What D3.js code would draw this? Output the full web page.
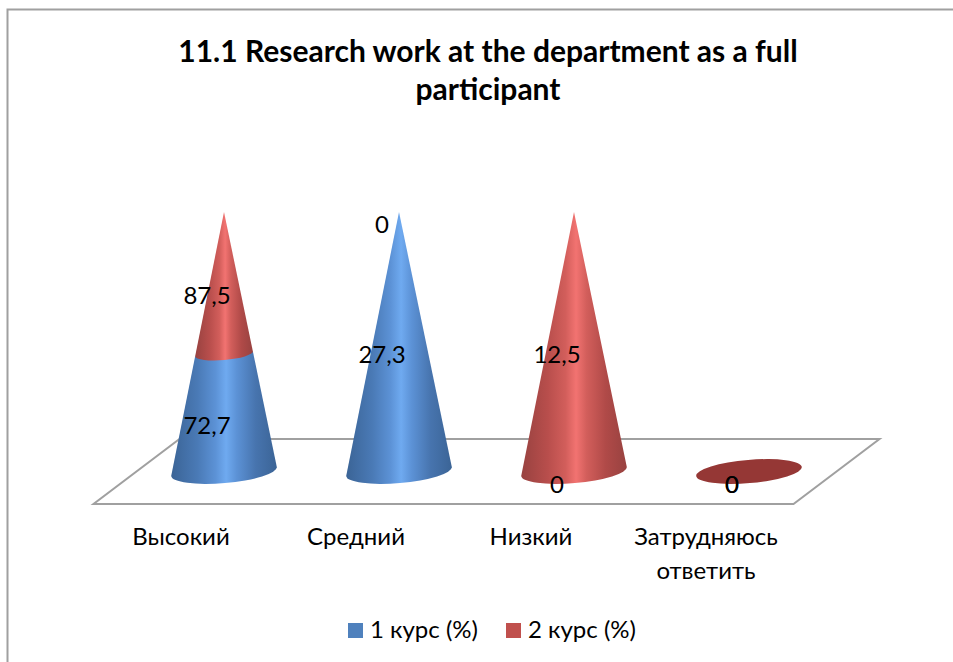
<!DOCTYPE html>
<html>
<head>
<meta charset="utf-8">
<script src="https://cdn.jsdelivr.net/npm/d3@7"></script>
<style>
    html, body { margin: 0; padding: 0; background: #fff; }
    svg { display: block; }
    text { font-family: Lato, "Open Sans", sans-serif; fill: #000; }
</style>
</head>
<body>
<div id="chart"></div>
<script>
const titleLines = ['11.1 Research work at the department as a full', 'participant']
const categories = ['Высокий', 'Средний', 'Низкий', 'Затрудняюсь ответить']
const seriesNames = ['1 курс (%)', '2 курс (%)']
const course1 = [72.7, 27.3, 0, 0]
const course2 = [87.5, 0, 12.5, 0]

const width = 953
const height = 662

// floor of the 3d plot, cones stand in the middle of its depth
const floorLeft = 93.5
const floorRight = 793.5
const floorFront = 504
const floorBack = 439
const depthX = 86
const baseY = (floorFront + floorBack) / 2
const topY = 212

const rx = 53
const ry = 11.6
const tilt = -4.9 * Math.PI / 180

const svg = d3.select('#chart').append('svg')
    .attr('width', width)
    .attr('height', height)

const x = d3.scaleBand()
    .domain(categories)
    .range([floorLeft, floorRight])

const y = d3.scaleLinear()
    .domain([0, 1])
    .range([baseY, topY])

const color = d3.scaleOrdinal()
    .domain(seriesNames)
    .range(['#4f81bd', '#c0504d'])

const rows = categories.map((c, i) => ({
    category: c,
    [seriesNames[0]]: course1[i],
    [seriesNames[1]]: course2[i]
}))

const stacked = d3.stack()
    .keys(seriesNames)
    .offset(d3.stackOffsetExpand)(rows)

const defs = svg.append('defs')

function addGradient(id, stops) {
    defs.append('linearGradient')
        .attr('id', id)
        .selectAll('stop')
        .data(stops)
        .enter()
        .append('stop')
        .attr('offset', d => d[0])
        .attr('stop-color', d => d[1])
}

addGradient('grad0', [[0, '#3b6496'], [0.25, '#4a7ab6'], [0.42, '#5c92d6'], [0.52, '#6faaf0'], [0.62, '#5c92d6'], [0.8, '#4774ae'], [1, '#3b6496']])
addGradient('grad1', [[0, '#984240'], [0.25, '#b84e4c'], [0.42, '#d25e5b'], [0.52, '#f27371'], [0.62, '#d25e5b'], [0.8, '#b04a48'], [1, '#984240']])

// chart frame, cut off by the right and bottom of the picture
svg.append('path')
    .attr('d', `M7.5,${height}V9.5H${width}`)
    .attr('fill', 'none')
    .attr('stroke', '#a0a0a0')
    .attr('stroke-width', 2)

const title = svg.append('text')
    .attr('text-anchor', 'middle')
    .attr('font-size', 30)
    .attr('font-weight', 700)

title.selectAll('tspan')
    .data(titleLines)
    .enter()
    .append('tspan')
    .attr('x', 488)
    .attr('y', (d, i) => 62 + i * 38)
    .text(d => d)

svg.append('path')
    .attr('class', 'floor')
    .attr('d', d3.line()([
        [floorLeft, floorFront],
        [floorRight, floorFront],
        [floorRight + depthX, floorBack],
        [floorLeft + depthX, floorBack]
    ]) + 'Z')
    .attr('fill', '#fff')
    .attr('stroke', '#a0a0a0')
    .attr('stroke-width', 2)

const coneX = c => x(c) + x.bandwidth() / 2 + depthX / 2

// ends of the tilted ellipse at some height of the cone
function ends(cx, yy) {
    const r = rx * (yy - topY) / (baseY - topY)
    const dx = r * Math.cos(tilt)
    const dy = r * Math.sin(tilt)
    return { r, left: [cx - dx, yy - dy], right: [cx + dx, yy + dy] }
}

function segmentPath(cx, v0, v1) {
    const lo = ends(cx, y(v0))
    const hi = ends(cx, y(v1))
    const rot = tilt * 180 / Math.PI
    const rLow = ry * lo.r / rx
    return `M${lo.left}A${lo.r},${rLow} ${rot} 0 0 ${lo.right}L${hi.right}L${hi.left}Z`
}

const cones = svg.append('g')
    .selectAll('g')
    .data(stacked)
    .enter()
    .append('g')
    .attr('class', 'series')

cones.selectAll('path')
    .data((s, si) => s.map(d => ({ category: d.data.category, v0: d[0], v1: d[1], si })))
    .enter()
    .filter(d => d.v1 > d.v0)
    .append('path')
    .attr('d', d => segmentPath(coneX(d.category), d.v0, d.v1))
    .attr('fill', d => `url(#grad${d.si})`)

// no answers at all in this category, only the flat base is left
svg.append('g')
    .selectAll('ellipse')
    .data(categories.filter((c, i) => course1[i] + course2[i] === 0))
    .enter()
    .append('ellipse')
    .attr('rx', rx)
    .attr('ry', ry)
    .attr('transform', c => `translate(${coneX(c)},${baseY}) rotate(${tilt * 180 / Math.PI})`)
    .attr('fill', '#953735')

const labels = svg.append('g')
    .attr('font-size', 24)
    .attr('text-anchor', 'middle')

stacked.forEach((s, si) => {
    const values = si === 0 ? course1 : course2
    labels.selectAll('.s' + si)
        .data(s)
        .enter()
        .append('text')
        .attr('class', 's' + si)
        .attr('x', d => coneX(d.data.category) - 17)
        .attr('y', d => y((d[0] + d[1]) / 2) + 21)
        .text((d, i) => String(values[i]).replace('.', ','))
})

const axisLabels = svg.append('g')
    .attr('font-size', 24)
    .attr('text-anchor', 'middle')

const wrapped = axisLabels.selectAll('text')
    .data(categories)
    .enter()
    .append('text')

wrapped.selectAll('tspan')
    .data(c => c.split(' ').map(w => ({ c, w })))
    .enter()
    .append('tspan')
    .attr('x', d => x(d.c) + x.bandwidth() / 2)
    .attr('y', (d, i) => 545 + i * 34)
    .text(d => d.w)

const legendX = d3.scalePoint()
    .domain(seriesNames)
    .range([348, 506])

const legend = svg.append('g')
    .selectAll('g')
    .data(seriesNames)
    .enter()
    .append('g')
    .attr('transform', d => `translate(${legendX(d)},0)`)

legend.append('rect')
    .attr('y', 623)
    .attr('width', 15)
    .attr('height', 15)
    .attr('fill', d => color(d))

legend.append('text')
    .attr('x', 22)
    .attr('y', 638)
    .attr('font-size', 24)
    .text(d => d)
</script>
</body>
</html>
